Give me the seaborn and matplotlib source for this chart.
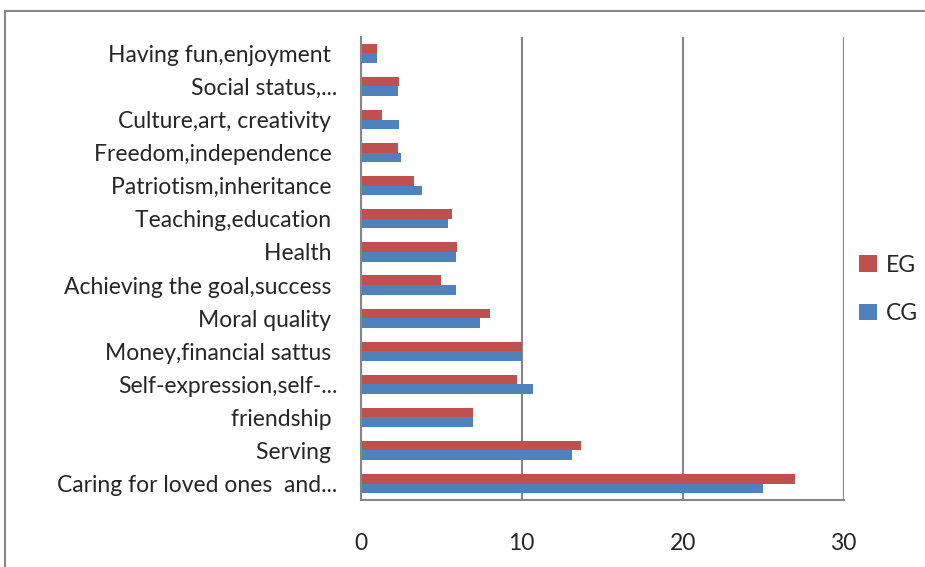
import numpy as np
import pandas as pd
import matplotlib
matplotlib.use("Agg")
import matplotlib.pyplot as plt
from matplotlib.patches import Rectangle
import seaborn as sns

categories = ["Having fun,enjoyment ", "Social status,...", "Culture,art, creativity ",
              "Freedom,independence ", "Patriotism,inheritance ", "Teaching,education ",
              "Health ", "Achieving the goal,success ", "Moral quality ",
              "Money,financial sattus ", "Self-expression,self-...", "friendship ",
              "Serving ", "Caring for loved ones  and..."]
eg_values = [1.0, 2.4, 1.3, 2.3, 3.3, 5.7, 6.0, 5.0, 8.0, 10.0, 9.7, 7.0, 13.7, 27.0]
cg_values = [1.0, 2.3, 2.4, 2.5, 3.8, 5.4, 5.9, 5.9, 7.4, 10.0, 10.7, 7.0, 13.1, 25.0]
groups = ["EG", "CG"]
x_ticks = [0, 10, 20, 30]

df = pd.DataFrame({
    "category": categories * 2,
    "value": eg_values + cg_values,
    "group": ["EG"] * len(categories) + ["CG"] * len(categories),
})

sns.set_style("white")
plt.rcParams["font.family"] = ["Lato", "DejaVu Sans"]

fig = plt.figure(figsize=(9.25, 5.67), dpi=100)
ax = fig.add_axes([0.390, 0.118, 0.522, 0.817])

sns.barplot(data=df, x="value", y="category", hue="group", hue_order=groups,
            order=categories, palette={"EG": "#C0504D", "CG": "#4F81BD"},
            saturation=1, width=0.58, orient="h", ax=ax, edgecolor="none")

ax.set_xlim(0, 30)
ax.set_ylim(len(categories) - 0.5, -0.5)
ax.set_xticks(x_ticks)
ax.set_xticklabels([str(t) for t in x_ticks], fontsize=16.5)
ax.tick_params(axis="x", length=6, width=1.5, color="#868686", pad=18)
ax.xaxis.grid(True, color="#868686", linewidth=1.5)
ax.set_axisbelow(True)

ax.set_yticks(range(len(categories)))
ax.set_yticklabels(categories, fontsize=16.5)
ax.tick_params(axis="y", which="major", length=0, pad=17)
ax.set_yticks(np.arange(-0.5, len(categories), 1), minor=True)
ax.tick_params(axis="y", which="minor", length=6, width=1.5, color="#868686")

ax.set_xlabel("")
ax.set_ylabel("")
for side in ["top", "right"]:
    ax.spines[side].set_visible(False)
for side in ["left", "bottom"]:
    ax.spines[side].set_color("#868686")
    ax.spines[side].set_linewidth(1.5)

leg = ax.legend(loc="center left", bbox_to_anchor=(0.99, 0.455), frameon=False,
                fontsize=16.5, handlelength=0.75, handleheight=0.75,
                handletextpad=0.4, labelspacing=1.2)

fig.patches.append(Rectangle((5 / 925, -0.05), 1.1, 1 - 11 / 567 + 0.05,
                             transform=fig.transFigure, fill=False,
                             edgecolor="#868686", linewidth=1.5))

fig.savefig("out.png", dpi=100)
